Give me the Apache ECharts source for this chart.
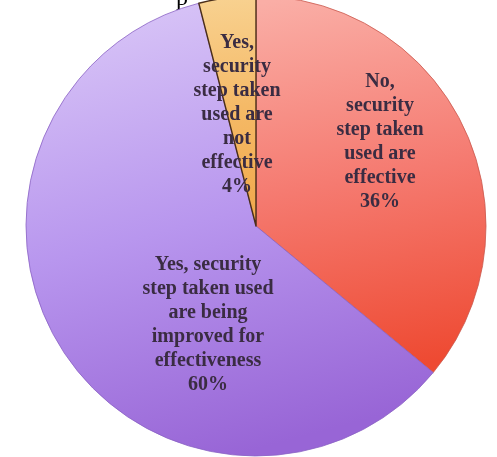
<!DOCTYPE html>
<html>
<head>
<meta charset="utf-8">
<script src="https://cdn.jsdelivr.net/npm/echarts@6/dist/echarts.min.js"></script>
<style>
html, body { margin: 0; padding: 0; background: #fff; }
#chart { width: 497px; height: 457px; }
</style>
</head>
<body>
<div id="chart"></div>
<script>
// slices, clockwise from 12 o'clock
var labels = [
    'No,\nsecurity\nstep taken\nused are\neffective\n36%',
    'Yes, security\nstep taken used\nare being\nimproved for\neffectiveness\n60%',
    'Yes,\nsecurity\nstep taken\nused are\nnot\neffective\n4%'
];
var values = [36, 60, 4];

// label centres
var labelPos = [[380, 142], [208, 325], [237, 115]];

function grad(c1, c2, c3) {
    return new echarts.graphic.LinearGradient(0.2, 0, 0.5, 1, [
        {offset: 0, color: c1},
        {offset: 0.5, color: c2},
        {offset: 1, color: c3}
    ]);
}

var styles = [
    {color: grad('#faaea6', '#f57a70', '#ee4a32'), borderColor: '#c9584c', borderWidth: 0.8},
    {color: grad('#d9c6f7', '#b896ee', '#9865d6'), borderColor: '#8a62c4', borderWidth: 0.8},
    {color: grad('#f8d291', '#f5b966', '#f0a84a'), borderColor: '#4a2e1a', borderWidth: 1.4}
];

var chart = echarts.init(document.getElementById('chart'));
var option = {
    animation: false,
    graphic: [{
        type: 'text',
        left: 176,
        top: -13,
        style: {text: 'p', font: '24px "Liberation Serif"', fill: '#000'}
    }],
    series: [{
        type: 'pie',
        center: [256, 226],
        radius: [0, 230],
        startAngle: 90,
        clockwise: true,
        data: values.map(function (v, i) {
            return {value: v, name: labels[i], itemStyle: styles[i]};
        }),
        label: {
            show: true,
            position: 'inside',
            formatter: '{b}',
            fontFamily: 'Liberation Serif',
            fontWeight: 'bold',
            fontSize: 20,
            lineHeight: 24,
            color: '#3a2c42',
            align: 'center'
        },
        labelLine: {show: false},
        labelLayout: function (params) {
            var p = labelPos[params.dataIndex];
            return {x: p[0], y: p[1], align: 'center', verticalAlign: 'middle'};
        }
    }]
};
chart.setOption(option);
</script>
</body>
</html>
